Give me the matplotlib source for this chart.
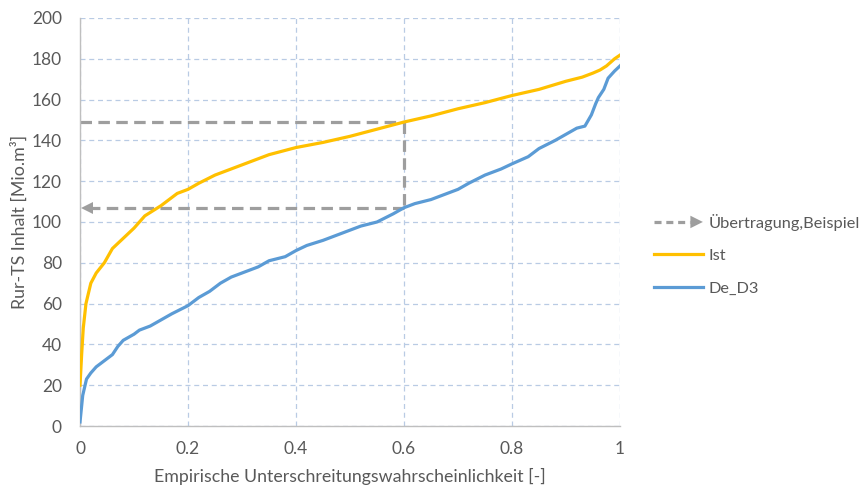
import matplotlib
matplotlib.use("Agg")
import matplotlib.pyplot as plt
from matplotlib.lines import Line2D
from matplotlib.patches import Polygon
from matplotlib.legend_handler import HandlerBase

plt.rcParams['font.family'] = ['Lato', 'DejaVu Sans']

# Empirical non-exceedance probability and reservoir content
ist_p = [0.0, 0.003, 0.006, 0.011, 0.02, 0.03, 0.045, 0.06, 0.08, 0.1, 0.12,
         0.15, 0.18, 0.2, 0.22, 0.25, 0.3, 0.35, 0.4, 0.45, 0.5, 0.55, 0.6,
         0.65, 0.7, 0.75, 0.8, 0.85, 0.9, 0.93, 0.95, 0.963, 0.975, 0.99, 1.0]
ist_v = [20, 35, 48, 60, 70, 75, 80, 87, 92, 97, 103,
         108, 114, 116, 119, 123, 128, 133, 136.5, 139, 142, 145.5, 149,
         152, 155.5, 158.5, 162, 165, 169, 171, 173, 174.5, 176.5, 180, 181.8]

de_p = [0.0, 0.005, 0.012, 0.02, 0.03, 0.05, 0.06, 0.07, 0.08, 0.1, 0.11,
        0.13, 0.15, 0.17, 0.2, 0.22, 0.24, 0.26, 0.28, 0.3, 0.33, 0.35, 0.38,
        0.4, 0.42, 0.45, 0.48, 0.5, 0.52, 0.55, 0.58, 0.6, 0.62, 0.65, 0.68,
        0.7, 0.72, 0.75, 0.78, 0.8, 0.83, 0.85, 0.88, 0.9, 0.92, 0.935, 0.947,
        0.955, 0.96, 0.97, 0.978, 0.99, 1.0]
de_v = [2, 15, 23, 26, 29, 33, 35, 39, 42, 45, 47,
        49, 52, 55, 59, 63, 66, 70, 73, 75, 78, 81, 83,
        86, 88.5, 91, 94, 96, 98, 100, 104, 107, 109, 111, 114,
        116, 119, 123, 126, 128.5, 132, 136, 140, 143, 146, 147, 152.5,
        158, 161, 165, 170.5, 174, 176.5]

# Transfer example: read at p = 0.6
example_p = 0.6
example_ist = 149
example_de = 107

x_ticks = [0, 0.2, 0.4, 0.6, 0.8, 1]
x_ticklabels = ['0', '0.2', '0.4', '0.6', '0.8', '1']
y_ticks = list(range(0, 201, 20))

c_ist = '#FFC000'
c_de = '#5B9BD5'
c_gray = '#9E9E9E'
c_text = '#595959'
c_grid = '#B9CBE4'
dash = (0, (3.6, 2.0))


class DashedArrowHandler(HandlerBase):
    def create_artists(self, legend, orig_handle, xdescent, ydescent,
                       width, height, fontsize, trans):
        y = height / 2 - ydescent
        x0 = -xdescent
        x1 = width - xdescent
        head = 9
        line = Line2D([x0, x1 - head], [y, y], color=c_gray, lw=2.3,
                      linestyle=(0, (2.2, 1.5)), transform=trans)
        tri = Polygon([[x1 - head, y + 4.5], [x1, y], [x1 - head, y - 4.5]],
                      closed=True, facecolor=c_gray, edgecolor='none',
                      transform=trans)
        return [line, tri]


fig = plt.figure(figsize=(8.67, 4.9), dpi=100)
ax = fig.add_axes([0.0923, 0.1306, 0.6228, 0.8327])

ax.plot(ist_p, ist_v, color=c_ist, lw=2.3, zorder=3, label='Ist')
ax.plot(de_p, de_v, color=c_de, lw=2.3, zorder=3, label='De_D3')

ax.plot([0, example_p], [example_ist, example_ist], color=c_gray, lw=2.3,
        linestyle=dash, zorder=2)
ax.plot([example_p, example_p], [example_ist, example_de], color=c_gray,
        lw=2.3, linestyle=dash, zorder=2)
ax.plot([example_p, 0.02], [example_de, example_de], color=c_gray, lw=2.3,
        linestyle=dash, zorder=2)
ax.plot([0.012], [example_de], marker='<', markersize=8, color=c_gray,
        markeredgewidth=0, zorder=2)

ax.set_xlim(0, 1)
ax.set_ylim(0, 200)
ax.set_xticks(x_ticks)
ax.set_xticklabels(x_ticklabels)
ax.set_yticks(y_ticks)
ax.tick_params(axis='both', length=0, labelsize=12.5, colors=c_text)
ax.tick_params(axis='y', pad=13)
ax.tick_params(axis='x', pad=11)

ax.grid(True, color=c_grid, linestyle=(0, (4, 3)), lw=0.9)
ax.set_axisbelow(True)
for s in ['top', 'right']:
    ax.spines[s].set_visible(False)
for s in ['left', 'bottom']:
    ax.spines[s].set_color('#BFBFBF')
    ax.spines[s].set_linewidth(1.0)

ax.set_xlabel('Empirische Unterschreitungswahrscheinlichkeit [-]',
              fontsize=12.8, color=c_text, labelpad=8)
ax.set_ylabel('Rur-TS Inhalt [Mio.m³]', fontsize=12.8, color=c_text,
              labelpad=3)

proxy = Line2D([], [], color=c_gray)
h_ist = Line2D([], [], color=c_ist, lw=2.3)
h_de = Line2D([], [], color=c_de, lw=2.3)
leg = fig.legend([proxy, h_ist, h_de],
                 ['Übertragung,Beispiel', 'Ist', 'De_D3'],
                 handler_map={proxy: DashedArrowHandler()},
                 loc='upper left', bbox_to_anchor=(0.737, 0.594),
                 frameon=False, fontsize=11.8, handlelength=3.0,
                 handletextpad=0.35, labelspacing=1.1, labelcolor=c_text)

fig.savefig('out.png', dpi=100, facecolor='white')
